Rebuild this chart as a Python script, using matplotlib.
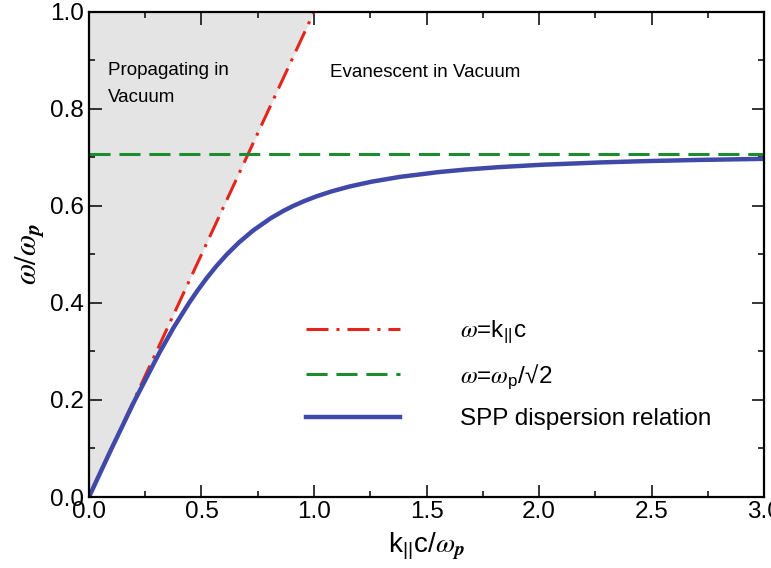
import matplotlib.pyplot as plt
from matplotlib.ticker import MultipleLocator

plt.rcParams['font.family'] = ['Liberation Sans', 'DejaVu Sans']
plt.rcParams['mathtext.fontset'] = 'stix'

# SPP dispersion curve, (k c / wp, w / wp)
k_spp = [0.0, 0.050, 0.1005, 0.2043, 0.316, 0.377, 0.4446, 0.4814, 0.521, 0.5643,
         0.6124, 0.667, 0.7309, 0.8083, 0.8643, 0.9071, 0.9557, 1.0117, 1.0774,
         1.1565, 1.2547, 1.3816, 1.5558, 1.6717, 1.8182, 2.0116, 2.2843, 2.4706,
         2.7121, 3.0]
w_spp = [0.0, 0.05, 0.1, 0.2, 0.3, 0.35, 0.4, 0.425, 0.45, 0.475,
         0.5, 0.525, 0.55, 0.575, 0.59, 0.6, 0.61, 0.62, 0.63,
         0.64, 0.65, 0.66, 0.67, 0.675, 0.68, 0.685, 0.69, 0.6925,
         0.695, 0.6972]

# light line w = k c
k_light = [0.0, 1.0]
w_light = [0.0, 1.0]

# surface plasma frequency wp / sqrt(2)
k_sp = [0.0, 3.0]
w_sp = [0.7071, 0.7071]

fig = plt.figure(figsize=(7.71, 5.68), dpi=100)
ax = fig.add_axes([0.1154, 0.125, 0.8756, 0.8539])

# light cone region
ax.fill_betweenx(w_light, 0, k_light, color='#e4e4e4', lw=0, zorder=0)

ax.plot(k_light, w_light, color='#e2261c', lw=2.2, dashes=(7.2, 2.6, 1.0, 2.6),
        label=r'$\omega$=k$_\mathregular{||}$c')
ax.plot(k_sp, w_sp, color='#1c8c2e', lw=2.2, dashes=(6.9, 2.9),
        label=r'$\omega$=$\omega_\mathregular{p}$/√2')
ax.plot(k_spp, w_spp, color='#4049a7', lw=3.2, label='SPP dispersion relation')

ax.text(0.084, 0.897, 'Propagating in\nVacuum', fontsize=13.5, va='top',
        linespacing=1.75)
ax.text(1.07, 0.875, 'Evanescent in Vacuum', fontsize=13.5, va='center')

ax.set_xlim(0, 3)
ax.set_ylim(0, 1)
ax.xaxis.set_major_locator(MultipleLocator(0.5))
ax.xaxis.set_minor_locator(MultipleLocator(0.25))
ax.yaxis.set_major_locator(MultipleLocator(0.2))
ax.yaxis.set_minor_locator(MultipleLocator(0.1))
ax.tick_params(which='both', direction='in', top=True, right=True,
               labelsize=17.5, width=1.1)
ax.tick_params(which='major', length=9)
ax.tick_params(which='minor', length=4.5)
ax.tick_params(axis='x', pad=3)
for s in ax.spines.values():
    s.set_linewidth(1.6)

ax.set_xlabel(r'k$_\mathregular{||}$c/$\omega_{\boldsymbol{p}}$', fontsize=20, labelpad=5)
ax.set_ylabel(r'$\omega/\omega_{\boldsymbol{p}}$', fontsize=22, labelpad=3)

ax.legend(loc='upper left', bbox_to_anchor=(0.3215, 0.368), frameon=False,
          fontsize=17.5, handlelength=3.87, handletextpad=2.45,
          labelspacing=0.7, borderpad=0, borderaxespad=0)

fig.savefig('out.png', dpi=100)
